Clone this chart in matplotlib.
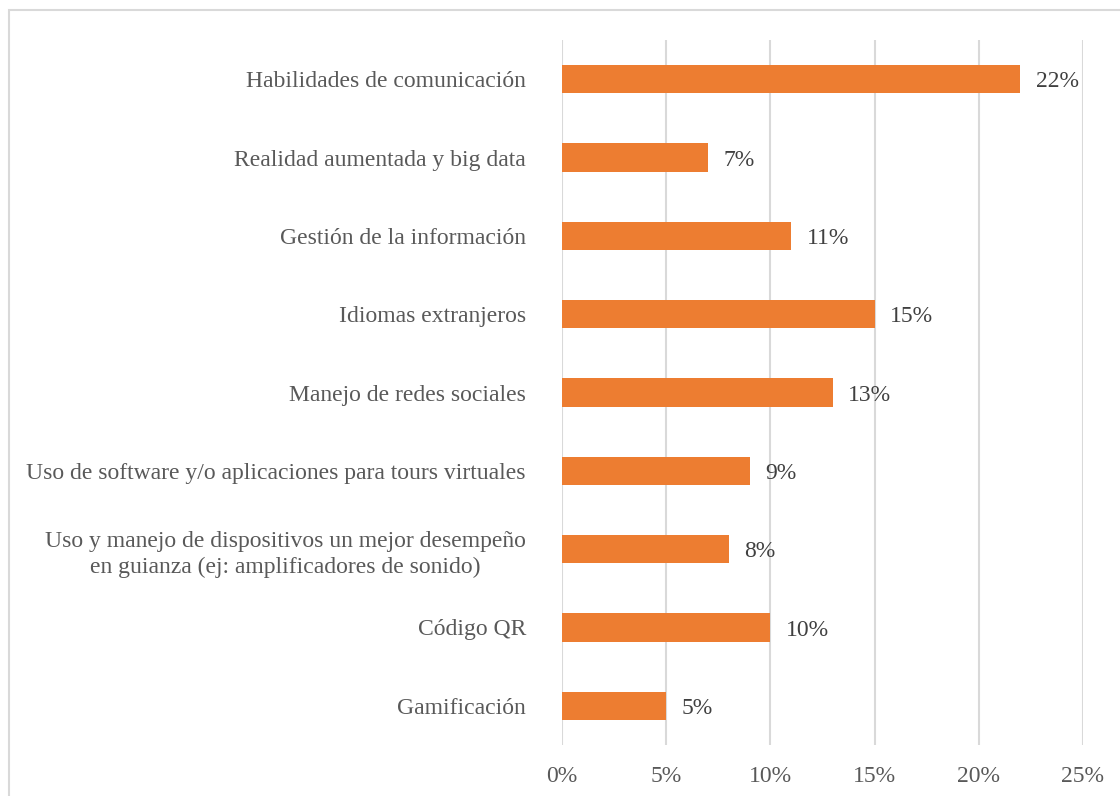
import matplotlib.pyplot as plt
from matplotlib.patches import Rectangle

categorias = [
    "Habilidades de comunicación",
    "Realidad aumentada y big data",
    "Gestión de la información",
    "Idiomas extranjeros",
    "Manejo de redes sociales",
    "Uso de software y/o aplicaciones para tours virtuales",
    "Uso y manejo de dispositivos un mejor desempeño\nen guianza (ej: amplificadores de sonido)",
    "Código QR",
    "Gamificación",
]
porcentajes = [22, 7, 11, 15, 13, 9, 8, 10, 5]
ticks = [0, 5, 10, 15, 20, 25]

naranja = "#ED7D31"
gris_texto = "#595959"
gris_linea = "#D9D9D9"
fs = 17

plt.rcParams["font.family"] = ["Liberation Serif", "DejaVu Serif"]

fig = plt.figure(figsize=(11.2, 7.96), dpi=100)
# marco del grafico
fig.patches.append(Rectangle((9 / 1120, -0.01), 1.02, 1 - 10 / 796 + 0.01,
                             transform=fig.transFigure, fill=False,
                             edgecolor=gris_linea, linewidth=1.5))

ax = fig.add_axes([562 / 1120, 1 - 745 / 796, (1083 - 562) / 1120, (745 - 40) / 796])

y = list(range(len(categorias)))[::-1]
ax.barh(y, porcentajes, height=0.36, color=naranja, zorder=3)
for yi, v in zip(y, porcentajes):
    ax.annotate(f"{v}%", (v, yi), xytext=(11, 0), textcoords="offset points",
                va="center_baseline", ha="left", fontsize=fs, color="#404040")

ax.set_xlim(0, 25)
ax.set_ylim(-0.5, len(categorias) - 0.5)
ax.set_xticks(ticks)
ax.set_xticklabels([f"{t}%" for t in ticks], fontsize=fs, color=gris_texto)
ax.set_yticks(y)
ax.set_yticklabels(categorias, fontsize=fs, color=gris_texto,
                   multialignment="center", linespacing=1.35)
ax.tick_params(axis="both", length=0)
ax.tick_params(axis="y", pad=26)
ax.tick_params(axis="x", pad=15)
ax.grid(axis="x", color=gris_linea, linewidth=1.5, zorder=0)
for s in ax.spines.values():
    s.set_visible(False)

fig.savefig("out.png", dpi=100)
